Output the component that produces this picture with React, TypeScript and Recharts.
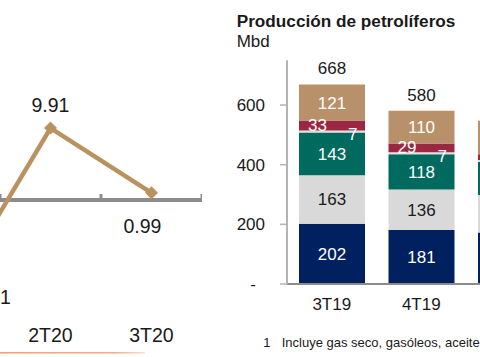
import React from 'react';
import { LineChart, Line, XAxis, YAxis, ReferenceLine, LabelList, BarChart, Bar } from 'recharts';

// left panel (cut off by the crop): quarterly variation
const lineQuarters = ['1T20', '2T20', '3T20'];
const lineValues = [-13.41, 9.91, 0.99];

// right panel: Producción de petrolíferos, Mbd
const barQuarters = ['3T19', '4T19', '1T20'];
const gasolinas = [202, 181, 173];
const diesel = [163, 136, 125];
const combustoleo = [143, 118, 112];
const turbosina = [7, 7, 6];
const coque = [33, 29, 19];
const otros = [121, 110, 112];
const totals = [668, 580, 547];
const yTicks = [0, 200, 400, 600];

const FONT = '"Liberation Sans", Arial, sans-serif';
const TEXT = '#1a1a1a';
const TAN = '#b8916a';
const LINE_TAN = '#b9925f';
const NAVY = '#002060';
const LIGHT = '#d9d9d9';
const TEAL = '#006a5f';
const PALE = '#e4dede';
const MAROON = '#9b2743';
const AXIS_DARK = '#8c8c8c';
const AXIS_LIGHT = '#b3b3b3';

const lineData = lineQuarters.map((q, i) => ({ q, v: lineValues[i] }));

const barData = barQuarters.map((q, i) => ({
  q,
  gasolinas: gasolinas[i],
  diesel: diesel[i],
  combustoleo: combustoleo[i],
  turbosina: turbosina[i],
  coque: coque[i],
  otros: otros[i],
  total: totals[i],
}));

const getBox = (p: any) => {
  const vb = p.viewBox || {};
  return {
    x: vb.x ?? p.x ?? 0,
    y: vb.y ?? p.y ?? 0,
    width: vb.width ?? p.width ?? 0,
    height: vb.height ?? p.height ?? 0,
  };
};

// zero line of the left panel, with small tick marks between quarters
const ZeroAxis = (p: any) => {
  const { x1, x2, y1 } = p;
  const step = (x2 - x1) / lineQuarters.length;
  const ticks = [];
  for (let k = 0; k <= lineQuarters.length; k++) ticks.push(x1 + k * step);
  return (
    <g>
      <line x1={x1} x2={x2} y1={y1} y2={y1} stroke={AXIS_DARK} strokeWidth={4} />
      {ticks.map((tx) => (
        <line key={tx} x1={tx} x2={tx} y1={y1} y2={y1 - 6} stroke={AXIS_DARK} strokeWidth={3} />
      ))}
    </g>
  );
};

const Diamond = (p: any) => {
  const { cx, cy, index } = p;
  if (cx == null || cy == null) return <g key={`dm-${index}`} />;
  const r = 6.5;
  return (
    <path
      key={`dm-${index}`}
      d={`M${cx},${cy - r}L${cx + r},${cy}L${cx},${cy + r}L${cx - r},${cy}Z`}
      fill={LINE_TAN}
    />
  );
};

const lineLabel = (p: any) => {
  const { x, y } = getBox(p);
  const v = Number(p.value);
  let tx = x;
  let ty = y;
  let anchor: 'start' | 'middle' = 'middle';
  if (v < 0) {
    tx = x + 6;
    ty = y + 7;
    anchor = 'start';
  } else if (v > 5) {
    ty = y - 16.5;
  } else {
    tx = x - 9;
    ty = y + 40;
  }
  return (
    <text x={tx} y={ty} textAnchor={anchor} fill={TEXT} fontSize={19.5} fontFamily={FONT}>
      {v.toFixed(2)}
    </text>
  );
};

const YTick = (p: any) => {
  const { x, y, payload } = p;
  const zero = payload.value === 0;
  return (
    <text x={x + (zero ? -9 : 0)} y={y} dy="0.355em" textAnchor="end" fill={TEXT} fontSize={17} fontFamily={FONT}>
      {zero ? '-' : payload.value}
    </text>
  );
};

// thin segment: label sits just under it at the right edge
const smallLabel = (p: any) => {
  const { x, y, width, height } = getBox(p);
  return (
    <text x={x + width - 7.5} y={y + height + 8} textAnchor="end" fill="#fff" fontSize={17} fontFamily={FONT}>
      {p.value}
    </text>
  );
};

const coqueLabel = (p: any) => {
  const { x, y, height } = getBox(p);
  return (
    <text x={x + 9} y={y + height + 1} textAnchor="start" fill="#fff" fontSize={17} fontFamily={FONT}>
      {p.value}
    </text>
  );
};

const labelStyle = { fontSize: 17, fontFamily: FONT };

export default function App() {
  return (
    <div
      style={{
        position: 'absolute',
        left: 0,
        top: 0,
        width: 480,
        height: 357,
        overflow: 'hidden',
        background: '#fff',
        fontFamily: FONT,
      }}
    >
      <div style={{ position: 'absolute', left: -101, top: 0 }}>
        <LineChart width={303} height={357} data={lineData} margin={{ top: 94.7, right: 0, bottom: 10.8, left: 0 }}>
          <XAxis
            dataKey="q"
            height={30}
            axisLine={false}
            tickLine={false}
            tickSize={0}
            tickMargin={12}
            interval={0}
            padding={{ left: 50.5, right: 50.5 }}
            tick={{ fill: TEXT, fontSize: 19.5, fontFamily: FONT }}
          />
          <YAxis hide domain={[-16, 14.5]} />
          <ReferenceLine y={0} shape={ZeroAxis} />
          <Line
            dataKey="v"
            stroke={LINE_TAN}
            strokeWidth={4.5}
            dot={Diamond}
            activeDot={false}
            isAnimationActive={false}
          >
            <LabelList dataKey="v" content={lineLabel} />
          </Line>
        </LineChart>
      </div>

      <div style={{ position: 'absolute', left: 227, top: 0 }}>
        <BarChart
          width={328.5}
          height={357}
          data={barData}
          margin={{ top: 60.3, right: 0, bottom: 33, left: 0 }}
          barSize={66}
        >
          <XAxis
            dataKey="q"
            height={40}
            axisLine={{ stroke: AXIS_DARK, strokeWidth: 2 }}
            tickLine={false}
            tickSize={0}
            tickMargin={14}
            interval={0}
            tick={{ fill: TEXT, fontSize: 17, fontFamily: FONT }}
          />
          <YAxis
            width={60}
            domain={[0, 750]}
            ticks={yTicks}
            allowDataOverflow
            axisLine={{ stroke: AXIS_LIGHT, strokeWidth: 2 }}
            tickLine={{ stroke: AXIS_LIGHT, strokeWidth: 1.5 }}
            tickSize={7}
            tickMargin={15}
            tick={YTick}
          />
          <Bar dataKey="gasolinas" stackId="p" fill={NAVY} isAnimationActive={false}>
            <LabelList dataKey="gasolinas" position="center" fill="#fff" {...labelStyle} />
          </Bar>
          <Bar dataKey="diesel" stackId="p" fill={LIGHT} isAnimationActive={false}>
            <LabelList dataKey="diesel" position="center" fill={TEXT} {...labelStyle} />
          </Bar>
          <Bar dataKey="combustoleo" stackId="p" fill={TEAL} isAnimationActive={false}>
            <LabelList dataKey="combustoleo" position="center" fill="#fff" {...labelStyle} />
          </Bar>
          <Bar dataKey="turbosina" stackId="p" fill={PALE} isAnimationActive={false}>
            <LabelList dataKey="turbosina" content={smallLabel} />
          </Bar>
          <Bar dataKey="coque" stackId="p" fill={MAROON} isAnimationActive={false}>
            <LabelList dataKey="coque" content={coqueLabel} />
          </Bar>
          <Bar dataKey="otros" stackId="p" fill={TAN} isAnimationActive={false}>
            <LabelList dataKey="otros" position="center" fill="#fff" {...labelStyle} />
            <LabelList dataKey="total" position="top" offset={10} fill={TEXT} {...labelStyle} />
          </Bar>
        </BarChart>
      </div>

      <svg width={480} height={357} style={{ position: 'absolute', left: 0, top: 0, pointerEvents: 'none' }}>
        <defs>
          <linearGradient id="rule" x1="0" y1="0" x2="1" y2="0">
            <stop offset="0%" stopColor="#f4a277" />
            <stop offset="80%" stopColor="#f6b08c" />
            <stop offset="100%" stopColor="#fbe0d0" />
          </linearGradient>
        </defs>
        <text x={236.7} y={26.5} fontSize={17.2} fontWeight="bold" fill={TEXT} fontFamily={FONT}>
          Producción de petrolíferos
        </text>
        <text x={236.7} y={46.7} fontSize={17} fill={TEXT} fontFamily={FONT}>
          Mbd
        </text>
        <text x={263.3} y={346.5} fontSize={13} fill={TEXT} fontFamily={FONT}>
          1
        </text>
        <text x={281.7} y={346.5} fontSize={13} fill={TEXT} fontFamily={FONT}>
          Incluye gas seco, gasóleos, aceite
        </text>
        <rect x={0} y={352} width={145} height={1.6} fill="url(#rule)" />
      </svg>
    </div>
  );
}
